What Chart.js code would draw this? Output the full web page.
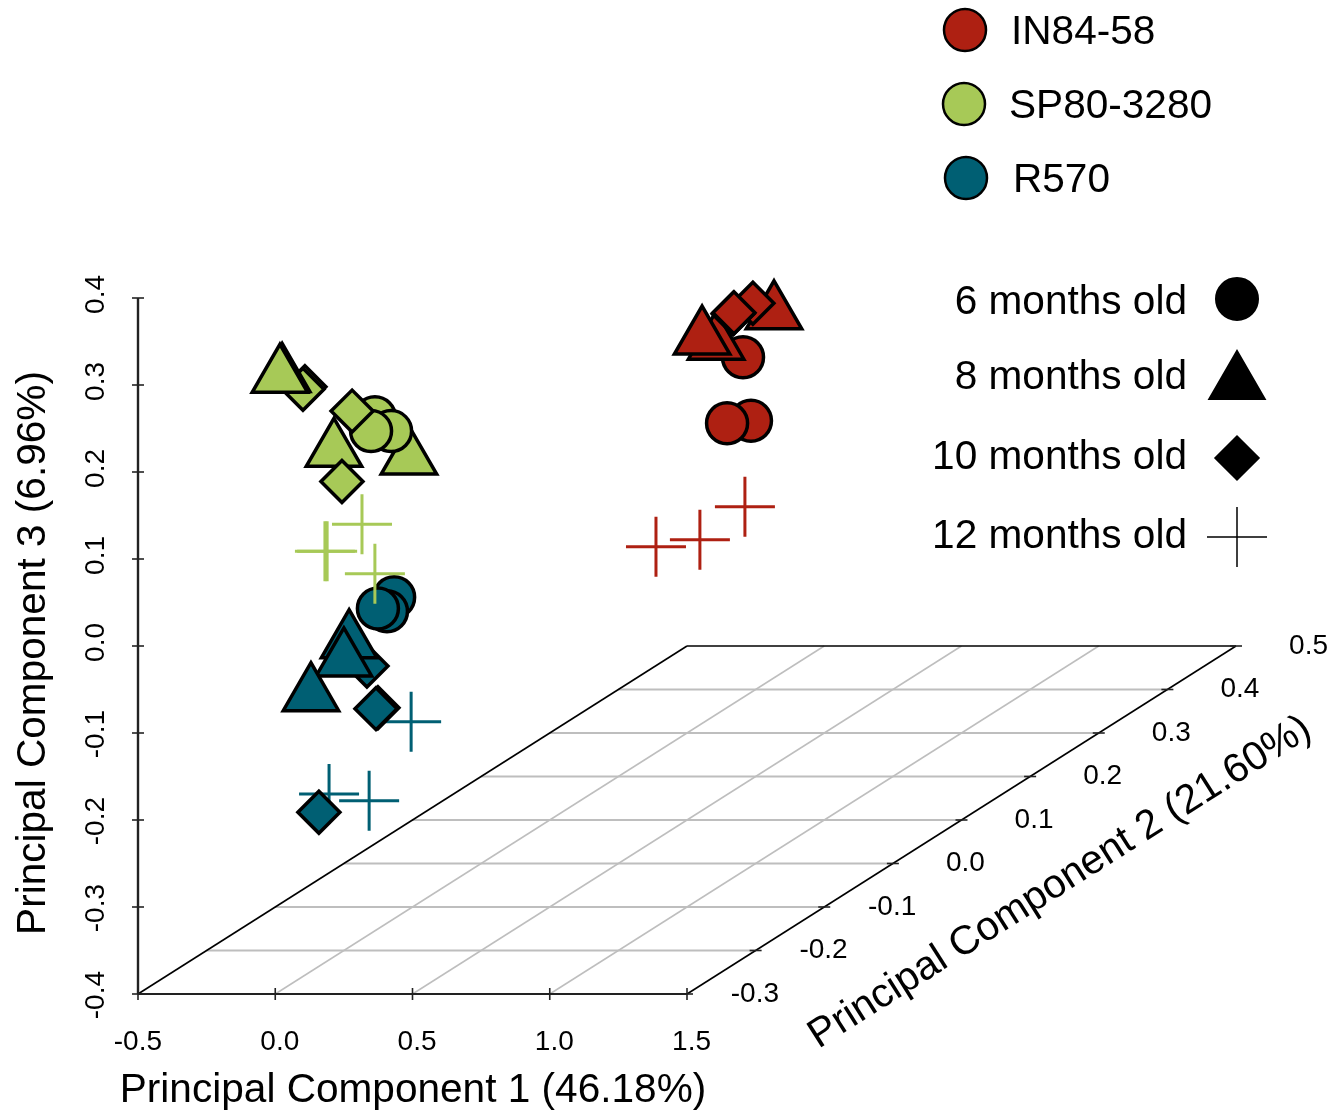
<!DOCTYPE html>
<html>
<head>
<meta charset="utf-8">
<title>PCA</title>
<script src="https://cdn.jsdelivr.net/npm/chart.js@4/dist/chart.umd.js"></script>
<style>
  html, body { margin: 0; background: #fff; }
  canvas { display: block; }
</style>
</head>
<body>
<canvas id="pca" width="1341" height="1110"></canvas>
<script>
// tick labels
var pc1Ticks = [-0.5, 0.0, 0.5, 1.0, 1.5];
var pc2Ticks = [-0.3, -0.2, -0.1, 0.0, 0.1, 0.2, 0.3, 0.4, 0.5];
var pc3Ticks = [-0.4, -0.3, -0.2, -0.1, 0.0, 0.1, 0.2, 0.3, 0.4];

var cultivars = ["IN84-58", "SP80-3280", "R570"];
var cultivarColors = ["#AE2012", "#A7C957", "#005F73"];
var ageNames = ["6 months old", "8 months old", "10 months old", "12 months old"];

// values, in paint order (PC2 depth already included)
var in84Age = [6, 6, 6, 8, 8, 8, 10, 10, 10, 12, 12, 12];
var in84X = [1.733, 1.646, 1.704, 1.817, 1.606, 1.555, 1.740, 1.668, 1.671, 1.387, 1.547, 1.711];
var in84Z = [0.259, 0.256, 0.332, 0.383, 0.348, 0.354, 0.394, 0.382, 0.383, 0.114, 0.122, 0.160];

var sp80Age = [10, 10, 8, 8, 8, 8, 6, 6, 6, 10, 10, 12, 12, 12, 12];
var sp80X = [0.108, 0.101, 0.025, 0.017, 0.487, 0.214, 0.363, 0.422, 0.349, 0.280, 0.243, 0.316, 0.181, 0.189, 0.363];
var sp80Z = [0.298, 0.295, 0.311, 0.310, 0.216, 0.225, 0.263, 0.247, 0.247, 0.270, 0.189, 0.140, 0.109, 0.109, 0.083];

var r570Age = [12, 12, 12, 10, 8, 8, 8, 10, 10, 10, 6, 6, 6];
var r570X = [0.196, 0.342, 0.495, 0.334, 0.269, 0.250, 0.130, 0.374, 0.367, 0.159, 0.433, 0.407, 0.374];
var r570Z = [-0.170, -0.178, -0.087, -0.023, 0.005, -0.016, -0.056, -0.071, -0.072, -0.191, 0.056, 0.040, 0.043];

var FONT = '"Liberation Sans", Arial, sans-serif';
var styleOf = { 6: "circle", 8: "triangle", 10: "rectRot", 12: "cross" };
var radiusOf = { 6: 20.5, 8: 32, 10: 21, 12: 30 };

function series(ages, xs, zs, color, order) {
  return {
    data: xs.map(function (x, i) { return { x: x, y: zs[i] }; }),
    order: order,
    clip: false,
    pointStyle: ages.map(function (a) { return styleOf[a]; }),
    pointRadius: ages.map(function (a) { return radiusOf[a]; }),
    pointBackgroundColor: color,
    pointBorderColor: ages.map(function (a) { return a === 12 ? color : "#000"; }),
    pointBorderWidth: ages.map(function (a) { return a === 12 ? 3 : 3.5; })
  };
}

// floor of the 3D box: a PC2 step moves a point right and up on the page
function shift(pc2) {
  var k = (pc2 - pc2Ticks[0]) / 0.1;
  return { x: k * 0.25, z: k * 0.05 };
}

var floorBox = {
  id: "floorBox",
  beforeDatasetsDraw: function (chart) {
    var c = chart.ctx, sx = chart.scales.x, sy = chart.scales.y;
    function line(x1, z1, x2, z2, color, w) {
      c.beginPath();
      c.moveTo(sx.getPixelForValue(x1), sy.getPixelForValue(z1));
      c.lineTo(sx.getPixelForValue(x2), sy.getPixelForValue(z2));
      c.strokeStyle = color;
      c.lineWidth = w;
      c.stroke();
    }
    var x0 = pc1Ticks[0], x1 = pc1Ticks[pc1Ticks.length - 1];
    var z0 = pc3Ticks[0], z1 = pc3Ticks[pc3Ticks.length - 1];
    var end = shift(pc2Ticks[pc2Ticks.length - 1]);
    c.save();
    pc2Ticks.slice(1, -1).forEach(function (t) {
      var s = shift(t);
      line(x0 + s.x, z0 + s.z, x1 + s.x, z0 + s.z, "#bebebe", 2);
    });
    pc1Ticks.slice(1, -1).forEach(function (t) {
      line(t, z0, t + end.x, z0 + end.z, "#bebebe", 1.5);
    });
    line(x0, z0, x0 + end.x, z0 + end.z, "#000", 1.6);
    line(x1, z0, x1 + end.x, z0 + end.z, "#000", 1.6);
    line(x0 + end.x, z0 + end.z, x1 + end.x, z0 + end.z, "#000", 1.6);
    line(x0, z0, x1, z0, "#222", 2);
    line(x0, z0, x0, z1, "#222", 2.4);
    // ticks cross the axes
    pc1Ticks.forEach(function (t) {
      var p = sx.getPixelForValue(t), b = sy.getPixelForValue(z0);
      c.beginPath(); c.moveTo(p, b - 6); c.lineTo(p, b + 6);
      c.strokeStyle = "#222"; c.lineWidth = 1.6; c.stroke();
    });
    pc3Ticks.forEach(function (t) {
      var p = sy.getPixelForValue(t), l = sx.getPixelForValue(x0);
      c.beginPath(); c.moveTo(l - 6, p); c.lineTo(l + 6, p);
      c.strokeStyle = "#222"; c.lineWidth = 1.6; c.stroke();
    });
    pc2Ticks.forEach(function (t) {
      var s = shift(t);
      var p = sx.getPixelForValue(x1 + s.x), q = sy.getPixelForValue(z0 + s.z);
      c.beginPath(); c.moveTo(p - 6, q); c.lineTo(p + 6, q);
      c.strokeStyle = "#222"; c.lineWidth = 1.6; c.stroke();
      c.fillStyle = "#000";
      c.font = "28px " + FONT;
      c.textAlign = "right";
      c.textBaseline = "middle";
      c.fillText(t.toFixed(1), p + 92, q);
    });
    c.restore();
  }
};

var titlesAndKeys = {
  id: "titlesAndKeys",
  afterDraw: function (chart) {
    var c = chart.ctx;
    function rotated(text, x, y, deg) {
      c.save();
      c.translate(x, y);
      c.rotate(deg * Math.PI / 180);
      c.fillText(text, 0, 0);
      c.restore();
    }
    c.save();
    c.fillStyle = "#000";
    c.font = "40.6px " + FONT;
    c.textAlign = "center";
    c.textBaseline = "alphabetic";
    c.fillText("Principal Component 1 (46.18%)", 413, 1102);
    rotated("Principal Component 3 (6.96%)", 45, 653, -90);
    rotated("Principal Component 2 (21.60%)", 1066, 892, -32.4);

    var keyX = [965, 964, 966], keyY = [30, 104, 178], nameX = [1011, 1009, 1013];
    c.textBaseline = "middle";
    cultivars.forEach(function (name, i) {
      c.beginPath();
      c.arc(keyX[i], keyY[i], 21, 0, Math.PI * 2);
      c.fillStyle = cultivarColors[i];
      c.fill();
      c.strokeStyle = "#000";
      c.lineWidth = 2.5;
      c.stroke();
      c.fillStyle = "#000";
      c.textAlign = "left";
      c.fillText(name, nameX[i], keyY[i] + 3);
    });

    var ageY = [303, 378, 458, 537], markY = [299, 383, 458, 537];
    var ages = [6, 8, 10, 12];
    ageNames.forEach(function (name, i) {
      c.fillStyle = "#000";
      c.textAlign = "right";
      c.fillText(name, 1187, ageY[i]);
      c.strokeStyle = "#000";
      c.lineWidth = ages[i] === 12 ? 1.5 : 3;
      Chart.helpers.drawPoint(c, {
        pointStyle: styleOf[ages[i]],
        radius: ages[i] === 8 ? 31 : radiusOf[ages[i]],
        rotation: 0,
        borderWidth: c.lineWidth
      }, 1237, markY[i]);
    });
    c.restore();
  }
};

new Chart(document.getElementById("pca"), {
  type: "scatter",
  data: {
    datasets: [
      series(in84Age, in84X, in84Z, cultivarColors[0], 1),
      series(sp80Age, sp80X, sp80Z, cultivarColors[1], 2),
      series(r570Age, r570X, r570Z, cultivarColors[2], 3)
    ]
  },
  options: {
    responsive: false,
    animation: false,
    events: [],
    layout: { padding: { top: 298, right: 105, left: 0, bottom: 0 } },
    plugins: { legend: { display: false }, tooltip: { enabled: false } },
    scales: {
      x: {
        type: "linear",
        min: -0.5,
        max: 3.5,
        afterFit: function (s) { s.height = 116; },
        afterBuildTicks: function (s) {
          s.ticks = pc1Ticks.map(function (v) { return { value: v }; });
        },
        border: { display: false },
        grid: { display: false },
        ticks: {
          autoSkip: false,
          maxRotation: 0,
          align: "end",
          labelOffset: 24,
          padding: 23,
          color: "#000",
          font: { family: FONT, size: 28 },
          callback: function (v) { return v.toFixed(1); }
        }
      },
      y: {
        type: "linear",
        min: -0.4,
        max: 0.4,
        afterFit: function (s) { s.width = 138; },
        afterBuildTicks: function (s) {
          s.ticks = pc3Ticks.map(function (v) { return { value: v }; });
        },
        border: { display: false },
        grid: { display: false },
        ticks: {
          autoSkip: false,
          minRotation: 90,
          maxRotation: 90,
          labelOffset: -23,
          padding: 34,
          color: "#000",
          font: { family: FONT, size: 28 },
          callback: function (v) { return v.toFixed(1); }
        }
      }
    }
  },
  plugins: [floorBox, titlesAndKeys]
});
</script>
</body>
</html>
